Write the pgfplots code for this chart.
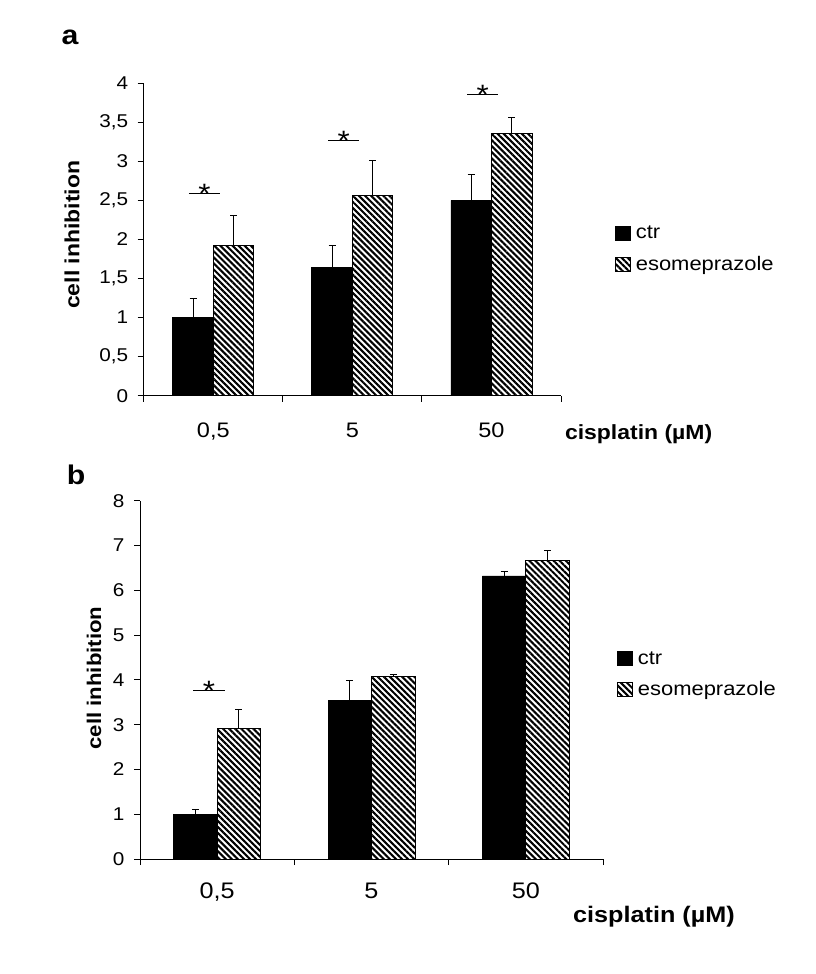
\documentclass[border=0pt]{standalone}
\usepackage{fontspec}
\setmainfont{Liberation Sans}[FakeStretch=1.12]
\usepackage{pgfplots}
\usepackage{pgfplotstable}
\pgfplotsset{compat=1.18}
\usetikzlibrary{patterns.meta}

\newcommand{\fs}[1]{\fontsize{#1}{#1}\selectfont}

\pgfplotstableread{
x ctr ctrerr esom esomerr
0 1.00 0.25 1.92 0.39
1 1.64 0.28 2.56 0.45
2 2.50 0.33 3.36 0.20
}\dataA

\pgfplotstableread{
x ctr ctrerr esom esomerr
0 1.00 0.11 2.92 0.42
1 3.55 0.44 4.08 0.04
2 6.32 0.10 6.67 0.22
}\dataB

\pgfplotsset{
  mystyle/.style={
    scale only axis,
    axis x line=bottom, axis y line=left,
    axis line style={-, line width=1pt, black},
    xmin=-0.5, xmax=2.5, ymin=0,
    xtick={-0.5,0.5,1.5,2.5}, xticklabels={},
    extra x ticks={0,1,2},
    extra x tick labels={{0,5},5,50},
    extra x tick style={major tick length=0pt},
    tick align=outside,
    major tick length=6pt,
    tick style={line width=1pt, black},
    ybar=0pt,
    /pgf/number format/assume math mode=true,
    /pgf/number format/use comma,
    y tick label style={font=\fs{18.5}, xshift=-6pt},
    clip=false,
    legend cell align=left,
  },
  myleg/.style={legend image code/.code={\draw[##1, line width=0.8pt] (0pt,-7pt) rectangle (15pt,7pt); \path (18pt,0pt);}},
  ctrbar/.style={fill=black, draw=black, line width=0.8pt, myleg,
    error bars/.cd, y dir=plus, y explicit,
    error bar style={line width=1pt, black},
    error mark options={rotate=90, mark size=3.5pt, line width=1pt, black}},
  esombar/.style={draw=black, line width=0.8pt, myleg,
    pattern={Lines[angle=-45, distance=4.3pt, line width=2.1pt]}, pattern color=black,
    error bars/.cd, y dir=plus, y explicit,
    error bar style={line width=1pt, black},
    error mark options={rotate=90, mark size=3.5pt, line width=1pt, black}},
}

\begin{document}
\begin{tikzpicture}
\path[use as bounding box] (0pt,0pt) rectangle (815pt,-974pt);

\node[font=\bfseries\fs{27}] at (70pt,-37pt) {a};
\node[font=\bfseries\fs{27}] at (76pt,-475pt) {b};

% Panel a
\begin{axis}[mystyle,
  at={(143.75pt,-395.7pt)}, anchor=south west,
  width=417.25pt, height=312.4pt,
  ymax=4, ytick={0,0.5,...,4},
  bar width=40.5pt,
  x tick label style={font=\fs{21}, yshift=-24pt},
  xlabel={\bfseries cisplatin (µM)},
  xlabel style={font=\bfseries\fs{20.5}, at={(axis description cs:1.186,-0.1226)}, anchor=center},
  ylabel={\bfseries cell inhibition},
  ylabel style={font=\bfseries\fs{20.5}, at={(axis description cs:-0.172,0.515)}, anchor=center},
  legend style={draw=none, fill=none, at={(axis description cs:1.129,0.55)}, anchor=north west,
    font=\fs{19.6}, row sep=12pt, inner sep=0pt},
]
\addplot[ctrbar] table[x=x, y=ctr, y error=ctrerr] {\dataA};
\addplot[esombar] table[x=x, y=esom, y error=esomerr] {\dataA};
\legend{ctr, esomeprazole}
\draw[line width=1pt] (axis cs:-0.175,2.59) -- (axis cs:0.05,2.59);
\draw[line width=1pt] (axis cs:0.825,3.27) -- (axis cs:1.05,3.27);
\draw[line width=1pt] (axis cs:1.825,3.863) -- (axis cs:2.05,3.863);
\node[font=\fs{28}, anchor=base, yshift=-10.5pt] at (axis cs:-0.0625,2.59) {*};
\node[font=\fs{28}, anchor=base, yshift=-10.5pt] at (axis cs:0.9375,3.27) {*};
\node[font=\fs{28}, anchor=base, yshift=-10.5pt] at (axis cs:1.9375,3.863) {*};
\end{axis}

% Panel b
\begin{axis}[mystyle,
  at={(140pt,-859pt)}, anchor=south west,
  width=463pt, height=358.3pt,
  ymax=8, ytick={0,1,...,8},
  bar width=43.5pt,
  x tick label style={font=\fs{22.5}, yshift=-20pt},
  xlabel={\bfseries cisplatin (µM)},
  xlabel style={font=\bfseries\fs{22.5}, at={(axis description cs:1.110,-0.162)}, anchor=center},
  ylabel={\bfseries cell inhibition},
  ylabel style={font=\bfseries\fs{19.8}, at={(axis description cs:-0.0994,0.505)}, anchor=center},
  legend style={draw=none, fill=none, at={(axis description cs:1.03,0.585)}, anchor=north west,
    font=\fs{19.6}, row sep=12pt, inner sep=0pt},
]
\addplot[ctrbar] table[x=x, y=ctr, y error=ctrerr] {\dataB};
\addplot[esombar] table[x=x, y=esom, y error=esomerr] {\dataB};
\legend{ctr, esomeprazole}
\draw[line width=1pt] (axis cs:-0.155,3.77) -- (axis cs:0.05,3.77);
\node[font=\fs{28}, anchor=base, yshift=-10.5pt] at (axis cs:-0.0525,3.77) {*};
\end{axis}
\end{tikzpicture}
\end{document}
